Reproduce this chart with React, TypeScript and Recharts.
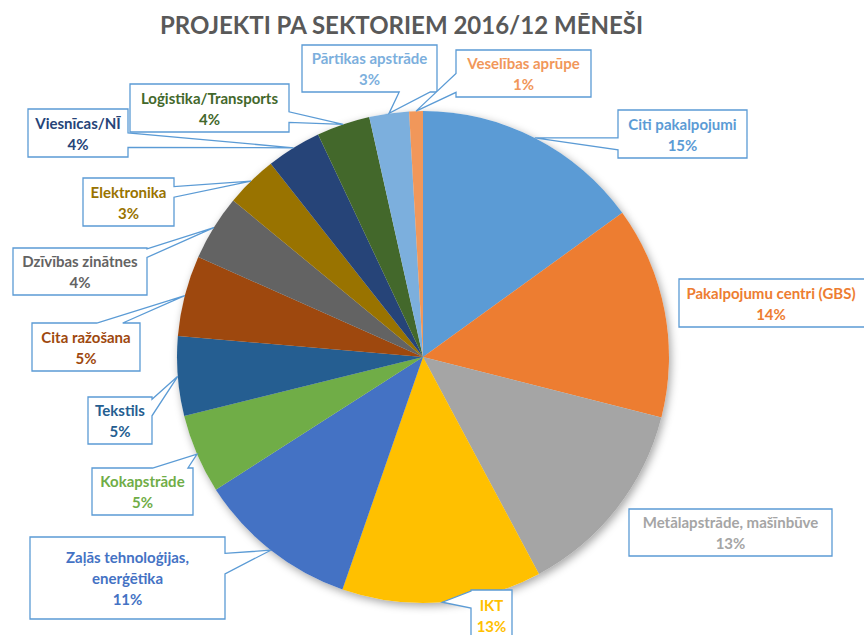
import { PieChart, Pie, Cell } from "recharts";

const sectors = [
  "Citi pakalpojumi",
  "Pakalpojumu centri (GBS)",
  "Metālapstrāde, mašīnbūve",
  "IKT",
  "Zaļās tehnoloģijas, enerģētika",
  "Kokapstrāde",
  "Tekstils",
  "Cita ražošana",
  "Dzīvības zinātnes",
  "Elektronika",
  "Viesnīcas/NĪ",
  "Loģistika/Transports",
  "Pārtikas apstrāde",
  "Veselības aprūpe",
];
const shares = [15.0, 13.9, 13.2, 13.1, 10.6, 5.2, 5.2, 5.3, 4.3, 3.4, 3.6, 3.5, 2.6, 0.9];

const COLORS = [
  "#5B9BD5", "#ED7D31", "#A5A5A5", "#FFC000", "#4472C4", "#70AD47", "#255E91",
  "#9E480E", "#636363", "#997300", "#264478", "#43682B", "#7CAFDD", "#F1975A",
];

const data = sectors.map((name, i) => ({ name, value: shares[i] }));

const FONT = "Lato, 'Open Sans', sans-serif";
const BORDER = "#5B9BD5";

type Side = "left" | "right" | "top" | "bottom" | null;
type Box = {
  x: number; y: number; w: number; h: number;
  side: Side; f: [number, number]; wrap?: boolean; textX?: number;
};

// callout boxes, same order as sectors
const BOXES: Box[] = [
  { x: 618, y: 110, w: 129, h: 48, side: "left", f: [0.58, 0.83] },
  { x: 679, y: 279, w: 210, h: 48, side: null, f: [0, 0], textX: 771 },
  { x: 629, y: 509, w: 203, h: 47, side: null, f: [0, 0] },
  { x: 471, y: 590, w: 41, h: 50, side: "left", f: [0.02, 0.36] },
  { x: 30, y: 537, w: 195, h: 82, side: "right", f: [0.2, 0.45], wrap: true },
  { x: 92, y: 468, w: 101, h: 47, side: "top", f: [0.6, 0.95] },
  { x: 88, y: 397, w: 64, h: 47, side: "right", f: [0.05, 0.4] },
  { x: 32, y: 323, w: 108, h: 48, side: "top", f: [0.6, 0.84] },
  { x: 13, y: 248, w: 134, h: 47, side: "right", f: [0.02, 0.2] },
  { x: 83, y: 178, w: 91, h: 48, side: "right", f: [0.18, 0.4] },
  { x: 28, y: 109, w: 100, h: 48, side: "right", f: [0.5, 0.8] },
  { x: 130, y: 84, w: 159, h: 48, side: "right", f: [0.58, 0.8] },
  { x: 302, y: 45, w: 135, h: 47, side: "bottom", f: [0.72, 0.95] },
  { x: 456, y: 50, w: 135, h: 47, side: "left", f: [0.5, 0.9] },
];

const calloutPath = (b: Box, tx: number, ty: number) => {
  const { x, y, w, h, side, f } = b;
  const TL = `${x},${y}`;
  const TR = `${x + w},${y}`;
  const BR = `${x + w},${y + h}`;
  const BL = `${x},${y + h}`;
  const T = `${tx},${ty}`;
  if (side === "top")
    return `M${TL} L${x + f[0] * w},${y} L${T} L${x + f[1] * w},${y} L${TR} L${BR} L${BL} Z`;
  if (side === "right")
    return `M${TL} L${TR} L${x + w},${y + f[0] * h} L${T} L${x + w},${y + f[1] * h} L${BR} L${BL} Z`;
  if (side === "bottom")
    return `M${TL} L${TR} L${BR} L${x + f[1] * w},${y + h} L${T} L${x + f[0] * w},${y + h} L${BL} Z`;
  if (side === "left")
    return `M${TL} L${TR} L${BR} L${BL} L${x},${y + f[1] * h} L${T} L${x},${y + f[0] * h} Z`;
  return `M${TL} L${TR} L${BR} L${BL} Z`;
};

const renderCallout = (props: any) => {
  const { cx, cy, midAngle, outerRadius, percent, index, name } = props;
  const b = BOXES[index];
  const rad = (-midAngle * Math.PI) / 180;
  const tx = cx + outerRadius * Math.cos(rad);
  const ty = cy + outerRadius * Math.sin(rad);
  let lines: string[] = [name];
  if (b.wrap) {
    const parts = name.split(", ");
    lines = [parts[0] + ",", parts[1]];
  }
  lines.push(`${Math.round(percent * 100)}%`);
  const lh = 21;
  const y0 = b.y + b.h / 2 - ((lines.length - 1) * lh) / 2;
  return (
    <g key={`lbl-${index}`}>
      <path d={calloutPath(b, tx, ty)} fill="#fff" stroke={BORDER} strokeWidth={1.3} />
      {lines.map((t, i) => (
        <text
          key={i}
          x={b.textX ?? b.x + b.w / 2}
          y={y0 + i * lh}
          textAnchor="middle"
          dominantBaseline="central"
          fontFamily={FONT}
          fontWeight={700}
          fontSize={15}
          fill={COLORS[index]}
        >
          {t}
        </text>
      ))}
    </g>
  );
};

export default function App() {
  return (
    <div
      style={{
        position: "absolute",
        left: 0,
        top: 0,
        width: 864,
        height: 635,
        overflow: "hidden",
        background: "#fff",
      }}
    >
      <div
        style={{
          position: "absolute",
          left: 0,
          width: 803,
          top: 10,
          textAlign: "center",
          fontFamily: FONT,
          fontWeight: 700,
          fontSize: 24,
          color: "#595959",
          zIndex: 2,
        }}
      >
        PROJEKTI PA SEKTORIEM 2016/12 MĒNEŠI
      </div>
      <PieChart width={864} height={635} margin={{ top: 0, right: 0, bottom: 0, left: 0 }}>
        <Pie
          data={data}
          dataKey="value"
          cx={423}
          cy={357}
          outerRadius={246}
          startAngle={90}
          endAngle={-270}
          stroke="none"
          isAnimationActive={false}
        >
          {data.map((_, i) => (
            <Cell
              key={`sh-${i}`}
              fill="#fff"
              style={{ filter: "drop-shadow(2px 3px 4px rgba(0,0,0,0.35))" }}
            />
          ))}
        </Pie>
        <Pie
          data={data}
          dataKey="value"
          cx={423}
          cy={357}
          outerRadius={246}
          startAngle={90}
          endAngle={-270}
          stroke="none"
          label={renderCallout}
          labelLine={false}
          isAnimationActive={false}
        >
          {data.map((_, i) => (
            <Cell key={`cell-${i}`} fill={COLORS[i]} />
          ))}
        </Pie>
      </PieChart>
    </div>
  );
}
